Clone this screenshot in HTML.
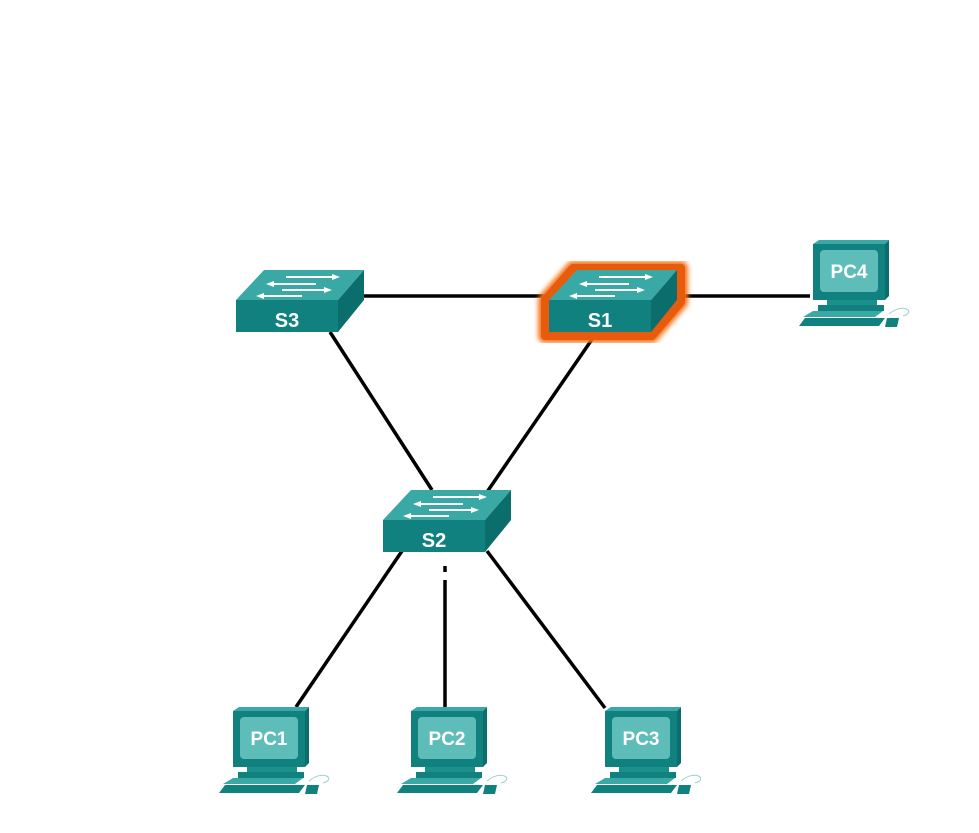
<!DOCTYPE html>
<html><head><style>body{margin:0;background:#fff}svg{display:block}text{font-family:"Liberation Sans",sans-serif;font-weight:bold;fill:#fff}</style></head><body>
<svg width="979" height="833" viewBox="0 0 979 833">
<defs>
<filter id="gl"><feGaussianBlur stdDeviation="2.5"/></filter>
<g id="sw">
<polygon points="0,30 28,0 128,0 102,30" fill="#3aa9a5"/>
<polygon points="102,30 128,0 128,30 102,62" fill="#0b6e6c"/>
<rect x="0" y="30" width="102" height="32" fill="#11817f"/>
<g stroke="#fff" stroke-width="2" fill="#fff">
<line x1="50" y1="7" x2="100" y2="7"/><polygon points="104,7 96,4 96,10" stroke="none"/>
<line x1="34" y1="14" x2="80" y2="14"/><polygon points="30,14 38,11 38,17" stroke="none"/>
<line x1="46" y1="20" x2="92" y2="20"/><polygon points="96,20 88,17 88,23" stroke="none"/>
<line x1="24" y1="26" x2="66" y2="26"/><polygon points="20,26 28,23 28,29" stroke="none"/>
</g>
</g>
<g id="pc">
<polygon points="0,4 6,0 76,0 72,4" fill="#3aa9a5"/>
<polygon points="72,4 76,0 76,56 72,60" fill="#0b6e6c"/>
<rect x="0" y="4" width="72" height="56" fill="#11817f"/>
<rect x="7" y="10" width="58" height="42" rx="4" fill="#5fbdb9"/>
<rect x="14" y="60" width="50" height="5" fill="#1a8f8b"/>
<rect x="5" y="65" width="66" height="6" fill="#11817f"/>
<polygon points="-10,77 0,71 70,71 62,77" fill="#3aa9a5"/>
<polygon points="-14,86 -8,78 72,78 66,86" fill="#11817f"/>
<polygon points="74,78 86,78 84,87 72,87" fill="#11817f"/>
<path d="M76,74 C90,62 104,72 90,76" stroke="#9ccfcd" fill="none" stroke-width="1"/>
</g>
</defs>
<g stroke="#000" stroke-width="3.5" fill="none">
<line x1="362" y1="296" x2="548" y2="296"/>
<line x1="678" y1="296" x2="810" y2="296"/>
<line x1="330" y1="332" x2="432" y2="490"/>
<line x1="595" y1="335" x2="487" y2="492"/>
<line x1="402" y1="551" x2="296" y2="707"/>
<line x1="445" y1="566" x2="445" y2="572"/>
<line x1="445" y1="580" x2="445" y2="707"/>
<line x1="487" y1="551" x2="605" y2="708"/>
</g>
<g transform="translate(236,270)"><use href="#sw"/><text x="51" y="57" font-size="20" text-anchor="middle">S3</text></g>
<polygon points="545,300 573,268 681,268 681,302 652,336 545,336" fill="none" stroke="#f5761f" stroke-width="14" stroke-linejoin="round" filter="url(#gl)"/>
<polygon points="545,300 573,268 681,268 681,302 652,336 545,336" fill="none" stroke="#e85a0c" stroke-width="8" stroke-linejoin="round"/>
<g transform="translate(549,270)"><use href="#sw"/><text x="51" y="57" font-size="20" text-anchor="middle">S1</text></g>
<g transform="translate(383,490)"><use href="#sw"/><text x="51" y="57" font-size="20" text-anchor="middle">S2</text></g>
<g transform="translate(813,240)"><use href="#pc"/><text x="36" y="38" font-size="19" text-anchor="middle">PC4</text></g>
<g transform="translate(233,707)"><use href="#pc"/><text x="36" y="38" font-size="19" text-anchor="middle">PC1</text></g>
<g transform="translate(411,707)"><use href="#pc"/><text x="36" y="38" font-size="19" text-anchor="middle">PC2</text></g>
<g transform="translate(605,707)"><use href="#pc"/><text x="36" y="38" font-size="19" text-anchor="middle">PC3</text></g>
</svg>
</body></html>
